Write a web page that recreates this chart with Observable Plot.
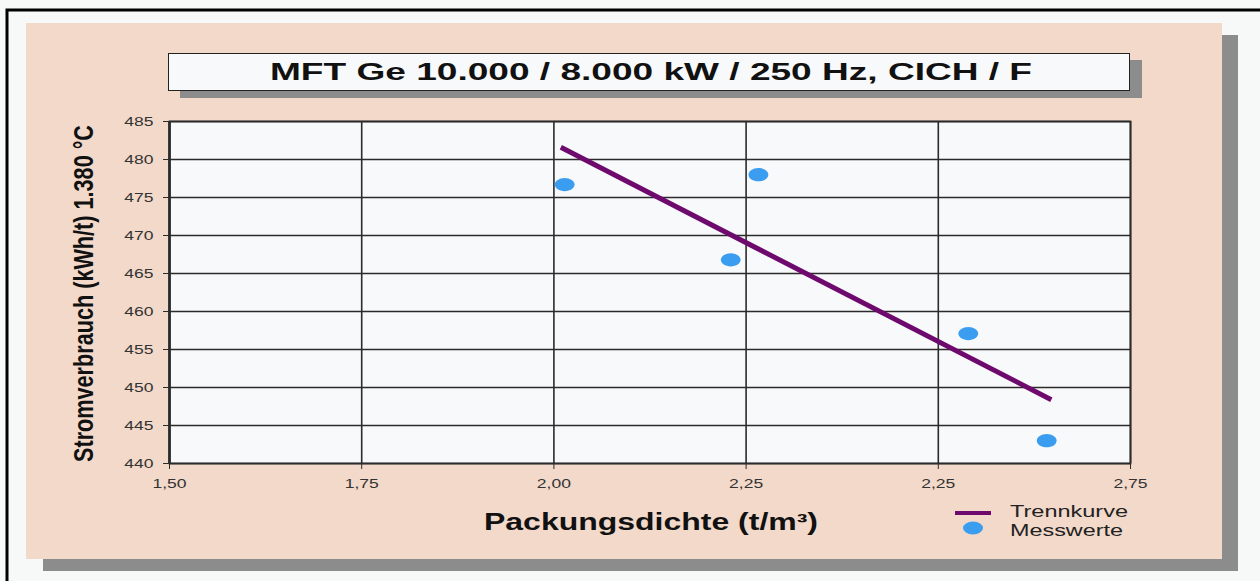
<!DOCTYPE html>
<html>
<head>
<meta charset="utf-8">
<script src="https://cdn.jsdelivr.net/npm/d3@7"></script>
<script src="https://cdn.jsdelivr.net/npm/@observablehq/plot@0.6"></script>
<style>
  html, body { margin: 0; padding: 0; background: #f7f8f8; }
  #wrap { position: relative; width: 1260px; height: 581px; overflow: hidden; }
  #decor, #chart svg { position: absolute; left: 0; top: 0; }
  text { font-family: "Liberation Sans", Arial, Helvetica, sans-serif; }
</style>
</head>
<body>
<div id="wrap">
<svg id="decor" width="1260" height="581" xmlns="http://www.w3.org/2000/svg">
  <rect x="0" y="0" width="1260" height="581" fill="#f7f8f8"/>
  <path d="M7,585 V10 H1265" fill="none" stroke="#000" stroke-width="3"/>
  <rect x="43" y="35" width="1195" height="536" fill="#8c8c8c"/>
  <rect x="26" y="23" width="1196" height="536" fill="#f2d9ca"/>
  <rect x="180" y="60" width="962" height="38" fill="#8c8c8c"/>
  <rect x="168.5" y="53.5" width="961" height="37" fill="#f8f9fa" stroke="#222" stroke-width="1"/>
  <text id="title" x="270" y="80" font-size="23" font-weight="bold" fill="#111" textLength="762" lengthAdjust="spacingAndGlyphs"></text>
  <text id="ytitle" transform="translate(93,293.5) rotate(-90)" text-anchor="middle" font-size="27" font-weight="bold" fill="#111" textLength="337" lengthAdjust="spacingAndGlyphs"></text>
  <text id="xtitle" x="484" y="530" font-size="23" font-weight="bold" fill="#111" textLength="334" lengthAdjust="spacingAndGlyphs"></text>
  <g id="legend"></g>
</svg>
<div id="chart"></div>
</div>
<script>
// ---- data ----
const xTickValues = [1.5, 1.75, 2.0, 2.25, 2.5, 2.75];
const xTickLabels = ["1,50", "1,75", "2,00", "2,25", "2,25", "2,75"];
const yTickValues = [440, 445, 450, 455, 460, 465, 470, 475, 480, 485];
const messX = [2.014, 2.230, 2.266, 2.539, 2.641];
const messY = [476.7, 466.8, 478.0, 457.1, 443.0];
const trendX = [2.009, 2.647];
const trendY = [481.6, 448.4];
const titleText = "MFT Ge 10.000 / 8.000 kW / 250 Hz, CICH / F";
const xTitle = "Packungsdichte (t/m³)";
const yTitle = "Stromverbrauch (kWh/t) 1.380 °C";
const legendNames = ["Trennkurve", "Messwerte"];

// ---- styles ----
const lineColor = "#6e0a6e";
const dotColor = "#3a9df0";
const gridColor = "#2b2b2b";

const messwerte = messX.map((x, i) => ({x, y: messY[i]}));
const trend = trendX.map((x, i) => ({x, y: trendY[i]}));

// ellipse symbol (wider than tall)
const ellipse = {
  draw(context, size) {
    const r = Math.sqrt(size / Math.PI);
    const rx = r * 1.5, ry = r, k = 0.5523;
    context.moveTo(rx, 0);
    context.bezierCurveTo(rx, ry * k, rx * k, ry, 0, ry);
    context.bezierCurveTo(-rx * k, ry, -rx, ry * k, -rx, 0);
    context.bezierCurveTo(-rx, -ry * k, -rx * k, -ry, 0, -ry);
    context.bezierCurveTo(rx * k, -ry, rx, -ry * k, rx, 0);
    context.closePath();
  }
};

const chart = Plot.plot({
  width: 1260,
  height: 581,
  marginLeft: 169,
  marginRight: 130,
  marginTop: 121,
  marginBottom: 118,
  x: {domain: [1.5, 2.75]},
  y: {domain: [440, 485]},
  style: {background: "transparent", fontFamily: "'Liberation Sans', Arial, sans-serif", fontSize: "12.5px", color: gridColor, overflow: "visible"},
  marks: [
    Plot.frame({fill: "#f8f9fa", stroke: null}),
    Plot.gridX({ticks: xTickValues, stroke: gridColor, strokeOpacity: 1, strokeWidth: 1.6}),
    Plot.gridY({ticks: yTickValues, stroke: gridColor, strokeOpacity: 1, strokeWidth: 1.6}),
    Plot.frame({stroke: gridColor, strokeWidth: 1.8}),
    Plot.ruleX([1.5], {stroke: gridColor, strokeWidth: 2.6}),
    Plot.axisX({ticks: xTickValues, tickFormat: d => xTickLabels[xTickValues.indexOf(d)], tickSize: 6, tickPadding: 10, label: null, fill: "#333"}),
    Plot.axisY({ticks: yTickValues, tickSize: 6, tickPadding: 10, label: null, fill: "#333"}),
    Plot.line(trend, {x: "x", y: "y", stroke: lineColor, strokeWidth: 5, strokeLinecap: "butt"}),
    Plot.dot(messwerte, {x: "x", y: "y", r: 6.6, fill: dotColor, symbol: ellipse})
  ]
});
document.getElementById("chart").appendChild(chart);

// horizontally stretched tick labels, as in the original
chart.querySelectorAll('g[aria-label$="tick label"] text').forEach(t => {
  const w = t.getComputedTextLength();
  t.setAttribute("textLength", (w * 1.4).toFixed(1));
  t.setAttribute("lengthAdjust", "spacingAndGlyphs");
});

// titles
document.getElementById("title").textContent = titleText;
document.getElementById("xtitle").textContent = xTitle;
document.getElementById("ytitle").textContent = yTitle;

// legend
const lg = d3.select("#legend");
lg.append("rect").attr("x", 955).attr("y", 511).attr("width", 36).attr("height", 4).attr("fill", lineColor);
lg.append("ellipse").attr("cx", 973).attr("cy", 528).attr("rx", 10).attr("ry", 6.5).attr("fill", dotColor);
const lgLens = [118, 113];
const lgY = [517, 536];
legendNames.forEach((n, i) => {
  lg.append("text").attr("x", 1010).attr("y", lgY[i]).attr("font-size", 17).attr("fill", "#222")
    .attr("textLength", lgLens[i]).attr("lengthAdjust", "spacingAndGlyphs").text(n);
});
</script>
</body>
</html>
